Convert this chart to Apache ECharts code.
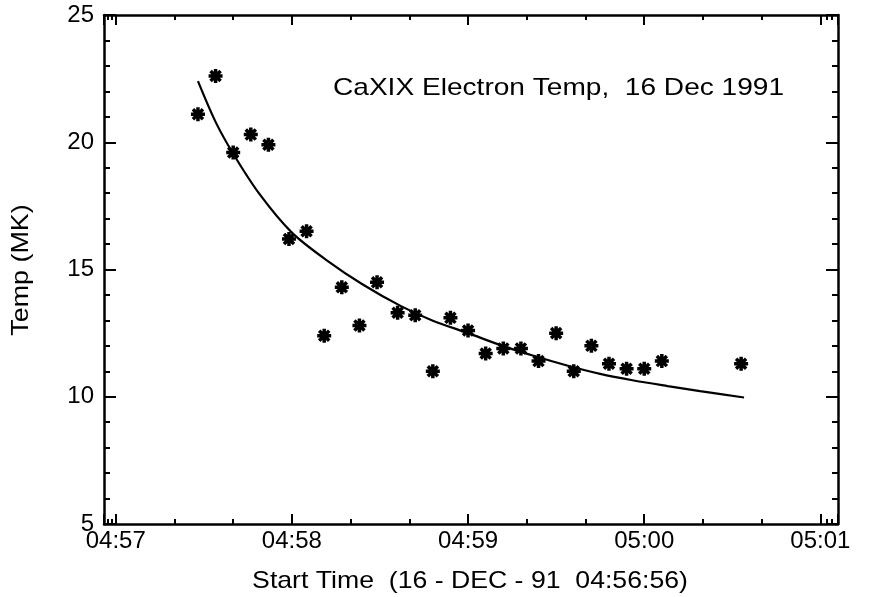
<!DOCTYPE html>
<html>
<head>
<meta charset="utf-8">
<script src="https://cdn.jsdelivr.net/npm/echarts@6/dist/echarts.min.js"></script>
<style>
html,body{margin:0;padding:0;background:#fff;}
#chart{width:871px;height:597px;}
</style>
</head>
<body>
<div id="chart"></div>
<script>
// Observation times (16 Dec 1991) and CaXIX electron temperature (MK)
const obsTimes = ["04:57:28","04:57:34","04:57:40","04:57:46","04:57:52","04:57:59","04:58:05",
  "04:58:11","04:58:17","04:58:23","04:58:29","04:58:36","04:58:42","04:58:48","04:58:54",
  "04:59:00","04:59:06","04:59:12","04:59:18","04:59:24","04:59:30","04:59:36","04:59:42",
  "04:59:48","04:59:54","05:00:00","05:00:06","05:00:33"];
const obsTemps = [21.1,22.6,19.6,20.3,19.9,16.2,16.5,
  12.4,14.3,12.8,14.5,13.3,13.2,11.0,13.1,
  12.6,11.7,11.9,11.9,11.4,12.5,11.0,12.0,
  11.3,11.1,11.1,11.4,11.3];
// Fitted curve
const fitTimes = ["04:57:28","04:57:34","04:57:40","04:57:49","04:58:00","04:58:12","04:58:24","04:58:37",
  "04:58:48","04:59:00","04:59:11","04:59:22","04:59:34","04:59:45","04:59:56","05:00:08","05:00:19","05:00:34"];
const fitTemps = [22.4,20.8,19.55,17.96,16.45,15.35,14.42,13.57,
  12.99,12.5,12.03,11.62,11.22,10.9,10.65,10.42,10.22,9.97];
const yTicks = [5,10,15,20,25];
const axisStart = "04:56:56", axisEnd = "05:01:06";
const annotation = "CaXIX Electron Temp,  16 Dec 1991";
const xTitle = "Start Time  (16 - DEC - 91  04:56:56)";
const yTitle = "Temp (MK)";

function toMs(s){ const p=s.split(':').map(Number); return new Date(1991,11,16,p[0],p[1],p[2]).getTime(); }
function pad(n){ return (n<10?'0':'')+n; }

const FONT = 'Liberation Sans, Arial, Helvetica, sans-serif';
const chart = echarts.init(document.getElementById('chart'), null, {renderer:'canvas'});
const axisLineStyle = {color:'#000', width:2.5};
const xBase = {
  type:'time', min:toMs(axisStart), max:toMs(axisEnd),
  minInterval:60000, maxInterval:60000,
  axisLine:{show:true, onZero:false, lineStyle:axisLineStyle},
  axisTick:{show:true, inside:true, length:10, lineStyle:{color:'#000',width:2}},
  minorTick:{show:true, splitNumber:3, length:5, lineStyle:{color:'#000',width:2}},
  splitLine:{show:false}
};
const yBase = {
  type:'value', min:yTicks[0], max:yTicks[yTicks.length-1], interval:5,
  axisLine:{show:true, onZero:false, lineStyle:axisLineStyle},
  axisTick:{show:true, inside:true, length:12, lineStyle:{color:'#000',width:2}},
  minorTick:{show:true, splitNumber:5, length:6, lineStyle:{color:'#000',width:2}},
  splitLine:{show:false}
};
const star = 'path://M0,-6L0,6M-6,0L6,0M-4.3,-4.3L4.3,4.3M-4.3,4.3L4.3,-4.3';
chart.setOption({
  animation:false,
  backgroundColor:'#fff',
  grid:{left:104, right:33, top:15, bottom:73, containLabel:false},
  xAxis:[
    Object.assign({}, xBase, {position:'bottom',
      axisLabel:{show:true, color:'#000', fontFamily:FONT, fontSize:24, margin:5,
        formatter:function(v){ const d=new Date(v); return pad(d.getHours())+':'+pad(d.getMinutes()); }}}),
    Object.assign({}, xBase, {position:'top', axisLabel:{show:false}})
  ],
  yAxis:[
    Object.assign({}, yBase, {position:'left',
      axisLabel:{show:true, color:'#000', fontFamily:FONT, fontSize:24, margin:10}}),
    Object.assign({}, yBase, {position:'right', axisLabel:{show:false}})
  ],
  graphic:[
    {type:'text', x:333, y:88, scaleX:1.17, style:{text:annotation, font:'24px '+FONT, fill:'#000', textAlign:'left', textVerticalAlign:'middle'}},
    {type:'text', x:470, y:581, scaleX:1.11, style:{text:xTitle, font:'24px '+FONT, fill:'#000', textAlign:'center', textVerticalAlign:'middle'}},
    {type:'text', x:21, y:270, rotation:Math.PI/2, scaleX:1.12, style:{text:yTitle, font:'24px '+FONT, fill:'#000', textAlign:'center', textVerticalAlign:'middle'}}
  ],
  series:[
    {type:'line', xAxisIndex:0, yAxisIndex:0, data:fitTimes.map((t,i)=>[toMs(t), fitTemps[i]]),
      smooth:0.3, showSymbol:false, lineStyle:{color:'#000', width:2.2}, silent:true},
    {type:'scatter', xAxisIndex:0, yAxisIndex:0, data:obsTimes.map((t,i)=>[toMs(t), obsTemps[i]]),
      symbol:star, symbolSize:14, itemStyle:{color:'#000', borderColor:'#000', borderWidth:3.5, opacity:1}, silent:true}
  ]
});
</script>
</body>
</html>
